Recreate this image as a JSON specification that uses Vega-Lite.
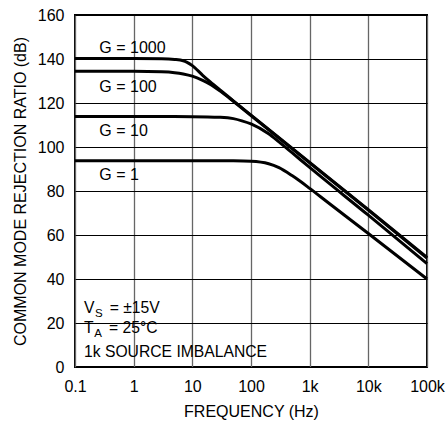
{
  "$schema": "https://vega.github.io/schema/vega-lite/v6.json",
  "width": 352,
  "height": 352,
  "autosize": "none",
  "padding": {"left": 75, "top": 15, "right": 20, "bottom": 56},
  "background": "white",
  "config": {
    "font": "Liberation Sans",
    "view": {"stroke": "black", "strokeWidth": 2},
    "axis": {"labelFont": "Liberation Sans", "titleFont": "Liberation Sans", "labelColor": "black", "titleColor": "black", "titleFontWeight": "normal"}
  },
  "datasets": {
    "curves": [
      {"f": 0.1, "db": 140.2, "g": "G = 1000"}, {"f": 1, "db": 140.2, "g": "G = 1000"}, {"f": 3, "db": 140.1, "g": "G = 1000"}, {"f": 5, "db": 139.8, "g": "G = 1000"}, {"f": 7, "db": 139.2, "g": "G = 1000"}, {"f": 8, "db": 138.6, "g": "G = 1000"}, {"f": 10, "db": 137, "g": "G = 1000"}, {"f": 15, "db": 132.6, "g": "G = 1000"}, {"f": 20, "db": 129.7, "g": "G = 1000"}, {"f": 30, "db": 125.8, "g": "G = 1000"}, {"f": 50, "db": 121, "g": "G = 1000"}, {"f": 100, "db": 114.5, "g": "G = 1000"}, {"f": 1000, "db": 93, "g": "G = 1000"}, {"f": 10000, "db": 71.5, "g": "G = 1000"}, {"f": 100000, "db": 49.8, "g": "G = 1000"},
      {"f": 0.1, "db": 134.4, "g": "G = 100"}, {"f": 1, "db": 134.4, "g": "G = 100"}, {"f": 3, "db": 134.2, "g": "G = 100"}, {"f": 5, "db": 133.8, "g": "G = 100"}, {"f": 7, "db": 133.2, "g": "G = 100"}, {"f": 10, "db": 132.2, "g": "G = 100"}, {"f": 15, "db": 130.3, "g": "G = 100"}, {"f": 20, "db": 128.6, "g": "G = 100"}, {"f": 30, "db": 125.4, "g": "G = 100"}, {"f": 50, "db": 120.8, "g": "G = 100"}, {"f": 100, "db": 114.3, "g": "G = 100"}, {"f": 1000, "db": 92.8, "g": "G = 100"}, {"f": 10000, "db": 71.3, "g": "G = 100"}, {"f": 100000, "db": 49.5, "g": "G = 100"},
      {"f": 0.1, "db": 113.9, "g": "G = 10"}, {"f": 1, "db": 113.9, "g": "G = 10"}, {"f": 10, "db": 113.8, "g": "G = 10"}, {"f": 30, "db": 113.5, "g": "G = 10"}, {"f": 50, "db": 112.9, "g": "G = 10"}, {"f": 70, "db": 111.9, "g": "G = 10"}, {"f": 100, "db": 110.5, "g": "G = 10"}, {"f": 200, "db": 106, "g": "G = 10"}, {"f": 300, "db": 102.3, "g": "G = 10"}, {"f": 500, "db": 97.4, "g": "G = 10"}, {"f": 1000, "db": 90.7, "g": "G = 10"}, {"f": 10000, "db": 69, "g": "G = 10"}, {"f": 100000, "db": 47, "g": "G = 10"},
      {"f": 0.1, "db": 93.8, "g": "G = 1"}, {"f": 1, "db": 93.8, "g": "G = 1"}, {"f": 10, "db": 93.8, "g": "G = 1"}, {"f": 50, "db": 93.7, "g": "G = 1"}, {"f": 100, "db": 93.5, "g": "G = 1"}, {"f": 200, "db": 92.4, "g": "G = 1"}, {"f": 300, "db": 90.6, "g": "G = 1"}, {"f": 500, "db": 87, "g": "G = 1"}, {"f": 700, "db": 84.3, "g": "G = 1"}, {"f": 1000, "db": 81.2, "g": "G = 1"}, {"f": 2000, "db": 75, "g": "G = 1"}, {"f": 10000, "db": 60.7, "g": "G = 1"}, {"f": 100000, "db": 40, "g": "G = 1"}
    ],
    "labels": [
      {"t": "G = 1000", "f": 0.26, "db": 142.6},
      {"t": "G = 100", "f": 0.26, "db": 124.9},
      {"t": "G = 10", "f": 0.26, "db": 105.1},
      {"t": "G = 1", "f": 0.26, "db": 85.1}
    ],
    "notes": [
      {"t": "V", "f": 0.1423, "db": 24.4},
      {"t": "= ±15V", "f": 0.39, "db": 24.4},
      {"t": "T", "f": 0.1423, "db": 15.3},
      {"t": "= 25°C", "f": 0.38, "db": 15.3},
      {"t": "1k SOURCE IMBALANCE", "f": 0.1423, "db": 4.7}
    ],
    "subs": [
      {"t": "S", "f": 0.2193, "db": 22.9},
      {"t": "A", "f": 0.2134, "db": 13.5}
    ]
  },
  "layer": [
    {
      "data": {"name": "curves"},
      "mark": {"type": "line", "color": "black", "strokeWidth": 3, "interpolate": "monotone"},
      "encoding": {
        "x": {"field": "f", "type": "quantitative",
          "scale": {"type": "log", "domain": [0.1, 100000], "nice": false},
          "axis": {"title": "FREQUENCY (Hz)", "values": [0.1, 1, 10, 100, 1000, 10000, 100000],
            "labelExpr": "datum.value >= 1000 ? format(datum.value/1000, 'd') + 'k' : (datum.value < 1 ? '0.1' : format(datum.value, 'd'))",
            "domain": false, "ticks": false, "grid": true, "gridColor": "#666666", "gridWidth": 1.3, "gridOpacity": 1,
            "labelFontSize": 16, "labelPadding": 11, "titleFontSize": 16, "titlePadding": 9, "labelFlush": false}},
        "y": {"field": "db", "type": "quantitative",
          "scale": {"domain": [0, 160], "nice": false},
          "axis": {"title": "COMMON MODE REJECTION RATIO (dB)", "values": [0, 20, 40, 60, 80, 100, 120, 140, 160],
            "domain": false, "ticks": false, "grid": true, "gridColor": "black", "gridWidth": 1, "gridOpacity": 1,
            "labelFontSize": 16, "labelPadding": 11, "titleFontSize": 16, "titlePadding": 9}},
        "detail": {"field": "g"}
      }
    },
    {
      "mark": {"type": "rect", "color": "white"},
      "encoding": {
        "x": {"datum": 0.1125, "type": "quantitative"},
        "x2": {"datum": 235},
        "y": {"datum": 1.4, "type": "quantitative"},
        "y2": {"datum": 32.7}
      }
    },
    {
      "data": {"name": "labels"},
      "mark": {"type": "text", "align": "left", "baseline": "alphabetic", "fontSize": 16, "color": "black", "font": "Liberation Sans"},
      "encoding": {
        "x": {"field": "f", "type": "quantitative"},
        "y": {"field": "db", "type": "quantitative"},
        "text": {"field": "t"}
      }
    },
    {
      "data": {"name": "notes"},
      "mark": {"type": "text", "align": "left", "baseline": "alphabetic", "fontSize": 15.7, "color": "black", "font": "Liberation Sans"},
      "encoding": {
        "x": {"field": "f", "type": "quantitative"},
        "y": {"field": "db", "type": "quantitative"},
        "text": {"field": "t"}
      }
    },
    {
      "data": {"name": "subs"},
      "mark": {"type": "text", "align": "left", "baseline": "alphabetic", "fontSize": 11.5, "color": "black", "font": "Liberation Sans"},
      "encoding": {
        "x": {"field": "f", "type": "quantitative"},
        "y": {"field": "db", "type": "quantitative"},
        "text": {"field": "t"}
      }
    }
  ]
}
